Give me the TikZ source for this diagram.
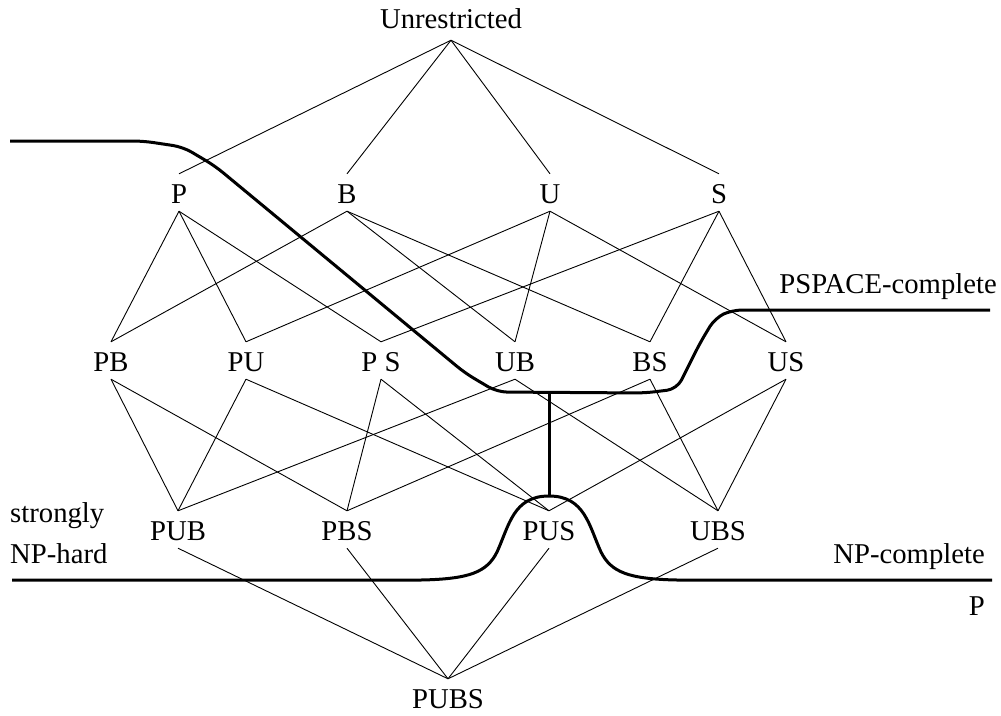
\documentclass[tikz,border=0pt]{standalone}
\usepackage{fontspec}
\setmainfont{Liberation Serif}
\begin{document}
\begin{tikzpicture}[x=1pt,y=-1pt,
  lab/.style={inner sep=0pt, text height=29pt, text depth=8pt, anchor=base, font=\fontsize{28.7}{34}\selectfont},
  txt/.style={inner sep=0pt, font=\fontsize{28.7}{34}\selectfont},
  edge/.style={line width=0.9pt},
  bound/.style={line width=3pt, line join=round}]
\useasboundingbox (0,0) rectangle (1001,715);
% nodes
\node[lab, text depth=12pt] (Un) at (451,28) {Unrestricted};
\node[lab] (P) at (179,203) {P};
\node[lab] (B) at (347,203) {B};
\node[lab] (U) at (550,203) {U};
\node[lab] (S) at (719,203) {S};
\node[lab] (PB) at (111,371) {PB};
\node[lab] (PU) at (246,371) {PU};
\node[lab] (PS) at (381,371) {P S};
\node[lab] (UB) at (515,371) {UB};
\node[lab] (BS) at (650,371) {BS};
\node[lab] (US) at (786,371) {US};
\node[lab] (PUB) at (178,540) {PUB};
\node[lab] (PBS) at (347,540) {PBS};
\node[lab] (PUS) at (549,540) {PUS};
\node[lab] (UBS) at (718,540) {UBS};
\node[lab] (PUBS) at (448,708) {PUBS};
% labels
\node[txt, anchor=base east] (pspace) at (997,293) {PSPACE-complete};
\node[txt, anchor=base west] (strongly) at (10,522) {strongly};
\node[txt, anchor=base west] (nphard) at (10,563) {NP-hard};
\node[txt, anchor=base east] (npc) at (985,563) {NP-complete};
\node[txt, anchor=base east] (ptxt) at (985,615) {P};
% edges
\foreach \a/\b in {Un/P,Un/B,Un/U,Un/S,
  P/PB,P/PU,P/PS,B/PB,B/UB,B/BS,U/PU,U/UB,U/US,S/PS,S/BS,S/US,
  PB/PUB,PB/PBS,PU/PUB,PU/PUS,PS/PBS,PS/PUS,UB/PUB,UB/UBS,BS/PBS,BS/UBS,US/PUS,US/UBS,
  PUB/PUBS,PBS/PUBS,PUS/PUBS,UBS/PUBS}
  \draw[edge] (\a.south) -- (\b.north);
% thick boundaries
\coordinate (j1) at (549,393);
\coordinate (j2) at (549,496);
\draw[bound, rounded corners=10pt] (10,141) -- (143,141) -- (183,147) -- (215,166) -- (465,373) -- (497,392) -- (645,393) -- (677,389) -- (700,343) -- (715,318) -- (732,310) -- (990,310);
\draw[bound] (j1) -- (j2);
\draw[bound] (12,580) -- (421,580) .. controls (470,579) and (487,572) .. (497,552)
  .. controls (509,526) and (513,496) .. (j2)
  .. controls (585,496) and (589,526) .. (601,552)
  .. controls (611,572) and (628,579) .. (677,580) -- (992,580);
\end{tikzpicture}
\end{document}
